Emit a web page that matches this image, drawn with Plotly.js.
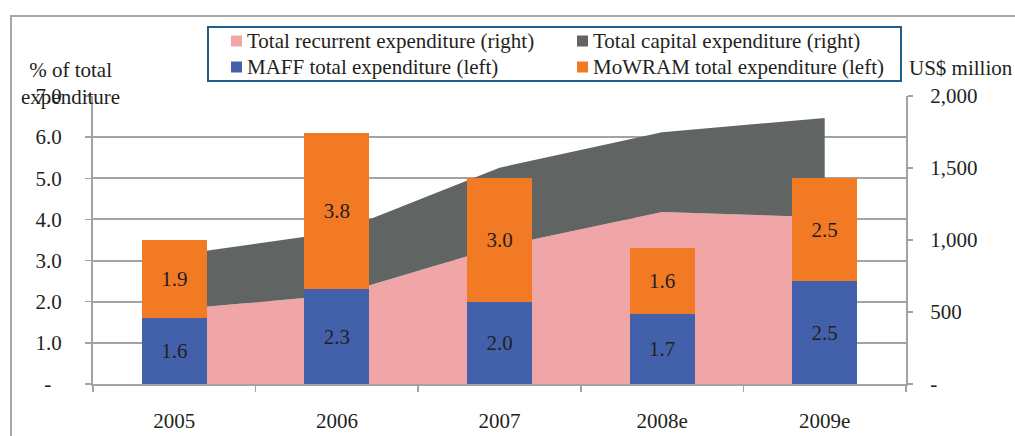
<!DOCTYPE html>
<html>
<head>
<meta charset="utf-8">
<script src="https://cdn.plot.ly/plotly-3.0.1.min.js"></script>
<style>
html,body{margin:0;padding:0;background:#fff;}
#chart{width:1015px;height:436px;}
</style>
</head>
<body>
<div id="chart"></div>
<script>
// ---- data ----
var years = ['2005', '2006', '2007', '2008e', '2009e'];
var recurrentExp = [517, 618, 954, 1194, 1158];   // US$ million (right)
var capitalExp = [377, 436, 548, 554, 689];       // US$ million (right)
var maffPct = [1.6, 2.3, 2.0, 1.7, 2.5];          // % of total (left)
var mowramPct = [1.9, 3.8, 3.0, 1.6, 2.5];        // % of total (left)
var leftTicks = [0, 1, 2, 3, 4, 5, 6, 7];
var leftTickText = ['-\u00a0\u00a0', '1.0', '2.0', '3.0', '4.0', '5.0', '6.0', '7.0'];
var rightTicks = [0, 500, 1000, 1500, 2000];
var rightTickText = ['-', '500', '1,000', '1,500', '2,000'];
var seriesNames = {
  rec: 'Total recurrent expenditure (right)',
  cap: 'Total capital expenditure (right)',
  maff: 'MAFF total expenditure (left)',
  mow: 'MoWRAM total expenditure (left)'
};

// ---- styles ----
var FONT = 'Liberation Serif, Times New Roman, serif';
var TXT = '#231f20';
var GRID = '#a3a3a3';
var C = {rec: '#f0a5a7', cap: '#606564', maff: '#4361ab', mow: '#f37a24'};

// geometry (pixels)
var W = 1015, H = 436, L = 93, R = 109, T = 96, B = 52;
var PW = W - L - R, PH = H - T - B;
function px(x) { return (x - L) / PW; }
function py(y) { return (H - B - y) / PH; }

var traces = [
  {type: 'scatter', x: years, y: recurrentExp, name: seriesNames.rec, stackgroup: 'area',
   mode: 'lines', line: {width: 0, color: C.rec}, fillcolor: C.rec, xaxis: 'x', yaxis: 'y',
   showlegend: false, hoverinfo: 'skip'},
  {type: 'scatter', x: years, y: capitalExp, name: seriesNames.cap, stackgroup: 'area',
   mode: 'lines', line: {width: 0, color: C.cap}, fillcolor: C.cap, xaxis: 'x', yaxis: 'y',
   showlegend: false, hoverinfo: 'skip'},
  {type: 'bar', x: years, y: maffPct, name: seriesNames.maff, marker: {color: C.maff},
   width: 0.4, xaxis: 'x', yaxis: 'y2', showlegend: false,
   text: maffPct.map(function(v){return v.toFixed(1);}), textposition: 'inside',
   insidetextanchor: 'middle', textangle: 0,
   insidetextfont: {family: FONT, size: 21, color: TXT}},
  {type: 'bar', x: years, y: mowramPct, name: seriesNames.mow, marker: {color: C.mow},
   width: 0.4, xaxis: 'x', yaxis: 'y2', showlegend: false,
   text: mowramPct.map(function(v){return v.toFixed(1);}), textposition: 'inside',
   insidetextanchor: 'middle', textangle: 0,
   insidetextfont: {family: FONT, size: 21, color: TXT}}
];

// manual legend
var shapes = [
  // outer frame
  {type: 'rect', xref: 'paper', yref: 'paper', x0: px(11), x1: px(1030), y0: py(450), y1: py(16),
   line: {color: '#a6a6a6', width: 2}, fillcolor: 'rgba(0,0,0,0)', layer: 'below'},
  // legend box
  {type: 'rect', xref: 'paper', yref: 'paper', x0: px(208), x1: px(901), y0: py(81), y1: py(27),
   line: {color: '#1f5f8f', width: 2}, fillcolor: '#ffffff'}
];
var annotations = [];
var legendItems = [
  {key: 'rec', mx: 231, ty: 41},
  {key: 'cap', mx: 577, ty: 41},
  {key: 'maff', mx: 231, ty: 67},
  {key: 'mow', mx: 577, ty: 67}
];
legendItems.forEach(function(it) {
  shapes.push({type: 'rect', xref: 'paper', yref: 'paper',
    x0: px(it.mx), x1: px(it.mx + 11), y0: py(it.ty + 5.5), y1: py(it.ty - 5.5),
    line: {width: 0}, fillcolor: C[it.key]});
  annotations.push({xref: 'paper', yref: 'paper', x: px(it.mx + 14), y: py(it.ty),
    xanchor: 'left', yanchor: 'middle', showarrow: false, text: seriesNames[it.key],
    font: {family: FONT, size: 21, color: TXT}});
});
annotations.push({xref: 'paper', yref: 'paper', x: px(70), y: py(84), xanchor: 'center', yanchor: 'middle',
  showarrow: false, text: '% of total<br>expenditure', font: {family: FONT, size: 21, color: TXT}});
annotations.push({xref: 'paper', yref: 'paper', x: px(961), y: py(68), xanchor: 'center', yanchor: 'middle',
  showarrow: false, text: 'US$ million', font: {family: FONT, size: 21, color: TXT}});

var layout = {
  width: W, height: H,
  margin: {l: L, r: R, t: T, b: B, pad: 0},
  paper_bgcolor: '#ffffff', plot_bgcolor: 'rgba(0,0,0,0)',
  barmode: 'stack',
  showlegend: false,
  font: {family: FONT, size: 21, color: TXT},
  xaxis: {type: 'category', showline: true, linecolor: GRID, linewidth: 2,
    ticks: 'outside', tickson: 'boundaries', ticklen: 6, tickcolor: GRID, tickwidth: 1.5,
    showgrid: false, zeroline: false, ticklabelstandoff: 17,
    tickfont: {family: FONT, size: 21, color: TXT}},
  yaxis: {side: 'right', range: [0, 2000], tickvals: rightTicks, ticktext: rightTickText,
    showgrid: false, zeroline: false, showline: true, linecolor: GRID, linewidth: 2,
    ticks: 'outside', ticklen: 5, tickcolor: GRID, tickwidth: 1.5, ticklabelstandoff: 13,
    tickfont: {family: FONT, size: 21, color: TXT}},
  yaxis2: {side: 'left', overlaying: 'y', range: [0, 7], tickvals: leftTicks, ticktext: leftTickText,
    showgrid: true, gridcolor: GRID, gridwidth: 2, zeroline: false, showline: true,
    linecolor: GRID, linewidth: 2, ticks: 'outside', ticklen: 6, tickcolor: GRID, tickwidth: 1.5,
    ticklabelstandoff: 19, tickfont: {family: FONT, size: 21, color: TXT}},
  shapes: shapes,
  annotations: annotations
};

Plotly.newPlot('chart', traces, layout, {displayModeBar: false, staticPlot: true});
</script>
</body>
</html>
